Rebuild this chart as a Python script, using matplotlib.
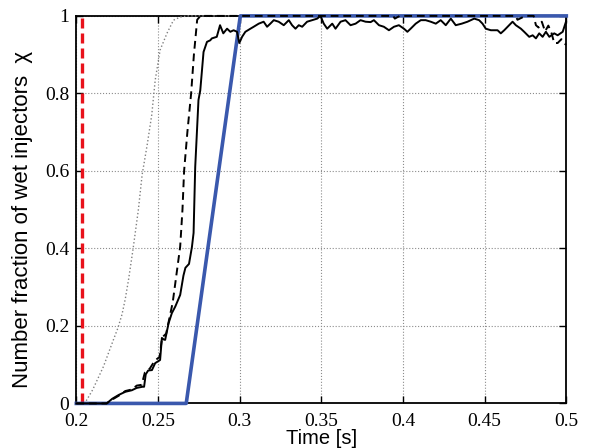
import matplotlib
matplotlib.use("Agg")
import matplotlib.pyplot as plt

# ---- data ----
t_solid = [0.200, 0.2186, 0.222, 0.226, 0.230, 0.234, 0.237, 0.2405, 0.2415, 0.2425, 0.2440,
           0.2463, 0.2483, 0.2513, 0.2524, 0.2535, 0.2544, 0.2565, 0.2585, 0.2606, 0.2636,
           0.2656, 0.2668, 0.2690, 0.2708, 0.2718, 0.2728, 0.2748, 0.2759, 0.2779, 0.2800,
           0.2820, 0.2830, 0.2860, 0.2880, 0.2900, 0.2923, 0.2943, 0.2963, 0.2984, 0.2998,
           0.3015, 0.3035, 0.3066, 0.3086, 0.3117, 0.3147, 0.3168, 0.3188, 0.3209, 0.3239,
           0.3270, 0.3301, 0.3321, 0.3342, 0.3362, 0.3383, 0.3413, 0.3444, 0.3475, 0.3495,
           0.3515, 0.3536, 0.3567, 0.3587, 0.3618, 0.3648, 0.3679, 0.3710, 0.3740, 0.3771,
           0.3802, 0.3822, 0.3853, 0.3883, 0.3914, 0.3945, 0.3975, 0.4006, 0.4027, 0.4047,
           0.4078, 0.4109, 0.4139, 0.4170, 0.4201, 0.4231, 0.4262, 0.4293, 0.4323, 0.4360,
           0.4395, 0.4436, 0.4466, 0.4487, 0.4507, 0.4538, 0.4579, 0.4599, 0.4620, 0.4650,
           0.4671, 0.4691, 0.4722, 0.4742, 0.4773, 0.4794, 0.4814, 0.4834, 0.4855, 0.4875,
           0.4896, 0.4926, 0.4947, 0.4978, 0.4998]
chi_solid = [0.0, 0.0, 0.012, 0.022, 0.030, 0.034, 0.040, 0.043, 0.043, 0.075, 0.085,
             0.086, 0.104, 0.112, 0.169, 0.165, 0.164, 0.207, 0.233, 0.250, 0.280,
             0.330, 0.350, 0.360, 0.404, 0.440, 0.610, 0.783, 0.808, 0.907, 0.933,
             0.937, 0.942, 0.946, 0.976, 0.955, 0.967, 0.959, 0.963, 0.959, 0.930,
             0.946, 0.959, 0.967, 0.972, 0.980, 0.985, 0.972, 0.980, 0.989, 0.985,
             0.976, 0.989, 0.976, 0.967, 0.976, 0.972, 0.985, 0.989, 0.993, 1.000,
             0.980, 0.967, 0.980, 0.967, 0.985, 0.989, 0.976, 0.980, 0.989, 0.985,
             0.984, 0.989, 0.976, 0.972, 0.963, 0.972, 0.976, 0.967, 0.959, 0.967,
             0.980, 0.989, 0.989, 0.985, 0.980, 0.989, 0.976, 0.993, 0.976, 0.980,
             0.985, 0.993, 0.989, 0.980, 0.967, 0.963, 0.963, 0.955, 0.963, 0.976,
             0.985, 0.976, 0.967, 0.959, 0.946, 0.950, 0.942, 0.955, 0.946, 0.959,
             0.946, 0.955, 0.950, 0.959, 0.985]

t_dashed = [0.200, 0.2186, 0.222, 0.226, 0.230, 0.234, 0.237, 0.240, 0.242, 0.245, 0.248,
            0.251, 0.2525, 0.255, 0.257, 0.259, 0.2606, 0.2625, 0.2636, 0.2650, 0.2660,
            0.2680, 0.2703, 0.2720, 0.2740, 0.2760, 0.3940, 0.3950, 0.3980, 0.4690, 0.4701,
            0.4750, 0.4800, 0.4814, 0.4830, 0.4850, 0.4870, 0.4890, 0.4910, 0.4926, 0.4947,
            0.4970, 0.4998]
chi_dashed = [0.0, 0.0, 0.010, 0.020, 0.032, 0.036, 0.046, 0.048, 0.080, 0.090, 0.110,
              0.120, 0.170, 0.180, 0.220, 0.260, 0.310, 0.370, 0.405, 0.500, 0.600,
              0.700, 0.800, 0.900, 0.990, 1.000, 1.000, 0.993, 1.000, 1.000, 0.990,
              1.000, 1.000, 0.976, 0.970, 0.985, 0.960, 0.975, 0.955, 0.930, 0.930,
              0.940, 0.925]

t_dotted = [0.200, 0.2045, 0.2064, 0.210, 0.2166, 0.2227, 0.2255, 0.2280, 0.2300, 0.2320,
            0.2348, 0.2380, 0.2403, 0.2435, 0.2462, 0.2483, 0.2513, 0.2555, 0.2595, 0.2636,
            0.2680, 0.500]
chi_dotted = [0.0, 0.0, 0.009, 0.035, 0.095, 0.164, 0.195, 0.230, 0.270, 0.320,
              0.400, 0.500, 0.590, 0.670, 0.745, 0.834, 0.912, 0.955, 0.989, 0.997,
              1.000, 1.000]

t_model = [0.200, 0.2673, 0.3004, 0.500]
chi_model = [0.0, 0.0, 1.0, 1.0]

t_start = [0.2037, 0.2037]
chi_start = [0.0, 1.0]

xticks = [0.2, 0.25, 0.3, 0.35, 0.4, 0.45, 0.5]
xticklabels = ["0.2", "0.25", "0.3", "0.35", "0.4", "0.45", "0.5"]
yticks = [0, 0.2, 0.4, 0.6, 0.8, 1.0]
yticklabels = ["0", "0.2", "0.4", "0.6", "0.8", "1"]

# ---- figure ----
fig = plt.figure(figsize=(5.98, 4.48), dpi=100)
ax = fig.add_axes([0.1276, 0.0995, 0.8194, 0.8650])

ax.plot(t_start, chi_start, color="#e8121b", lw=2.4, ls=(0, (3, 1.5)), clip_on=False, zorder=3)
ax.plot(t_dotted, chi_dotted, color="0.5", lw=1.0, ls=":", clip_on=False, zorder=3)
ax.plot(t_model, chi_model, color="#3a58ad", lw=2.6, clip_on=False, zorder=3)
ax.plot(t_solid, chi_solid, color="black", lw=1.4, clip_on=False, zorder=4)
ax.plot(t_dashed, chi_dashed, color="black", lw=1.4, ls=(0, (4, 2.5)), clip_on=False, zorder=5)

ax.set_xlim(0.2, 0.5)
ax.set_ylim(0, 1)
ax.set_xticks(xticks)
ax.set_xticklabels(xticklabels)
ax.set_yticks(yticks)
ax.set_yticklabels(yticklabels)

ax.grid(True, color="0.55", ls=":", lw=0.8)
ax.set_axisbelow(True)

for s in ax.spines.values():
    s.set_linewidth(1.3)
ax.tick_params(direction="in", length=5, width=1.0, top=True, right=True,
               labelsize=14)
ax.tick_params(axis="x", pad=7)
ax.tick_params(axis="y", pad=5)
for lab in ax.get_xticklabels() + ax.get_yticklabels():
    lab.set_fontfamily("Liberation Serif")

ax.set_xlabel("Time [s]", fontsize=14.5, fontfamily="Liberation Sans")
ax.set_ylabel("Number fraction of wet injectors  \u03c7", fontsize=16,
              fontfamily="Liberation Sans")
ax.xaxis.set_label_coords(0.5, -0.066)
ax.yaxis.set_label_coords(-0.088, 0.475)

fig.savefig("out.png", dpi=100)
